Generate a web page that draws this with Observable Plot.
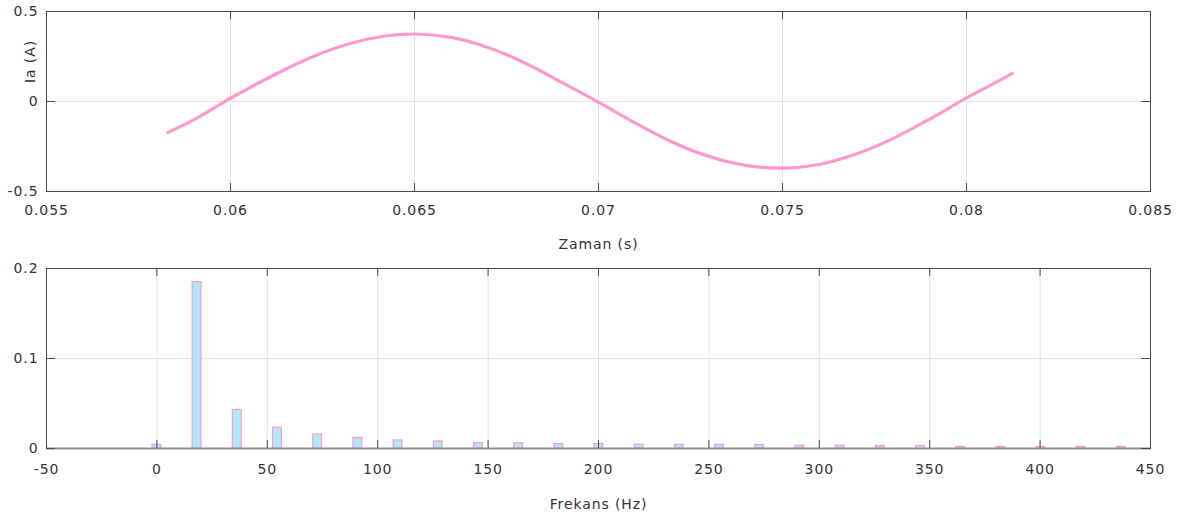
<!DOCTYPE html>
<html>
<head>
<meta charset="utf-8">
<script src="https://cdn.jsdelivr.net/npm/d3@7"></script>
<script src="https://cdn.jsdelivr.net/npm/@observablehq/plot@0.6"></script>
<style>
  html, body { margin: 0; padding: 0; background: #fff; }
  #chart svg { display: block; }
</style>
</head>
<body>
<div id="chart"></div>
<script>
// ---- Data ----
const timeS = [0.0583, 0.059, 0.060, 0.061, 0.062, 0.063, 0.064, 0.065, 0.066, 0.067, 0.068, 0.069, 0.070,
  0.071, 0.072, 0.073, 0.074, 0.075, 0.076, 0.077, 0.078, 0.079, 0.080, 0.081, 0.08125];
const currentA = [-0.172, -0.102, 0.018, 0.128, 0.228, 0.307, 0.357, 0.375, 0.356, 0.300, 0.214, 0.106, -0.004,
  -0.120, -0.225, -0.305, -0.355, -0.370, -0.350, -0.292, -0.206, -0.098, 0.020, 0.128, 0.156];

const freqHz = [0, 18.2, 36.4, 54.6, 72.8, 91, 109.2, 127.4, 145.6, 163.8, 182, 200.2, 218.4, 236.6,
  254.8, 273, 291.2, 309.4, 327.6, 345.8, 364, 382.2, 400.4, 418.6, 436.8];
const magnitude = [0.0042, 0.1848, 0.0428, 0.0232, 0.0155, 0.0118, 0.0090, 0.0078, 0.0060, 0.0058, 0.0050,
  0.0050, 0.0042, 0.0040, 0.0040, 0.0038, 0.0030, 0.0030, 0.0028, 0.0028, 0.0018, 0.0018, 0.0017, 0.0017, 0.0017];

const timeTicks = [0.055, 0.06, 0.065, 0.07, 0.075, 0.08, 0.085];
const currentTicks = [-0.5, 0, 0.5];
const freqTicks = [-50, 0, 50, 100, 150, 200, 250, 300, 350, 400, 450];
const magTicks = [0, 0.1, 0.2];

const xLabelTop = "Zaman (s)";
const yLabelTop = "Ia (A)";
const xLabelBottom = "Frekans (Hz)";

// ---- Styling ----
const W = 1186;
const ML = 46, MR = 36;
const FRAME_H = 180;
const pink = "#ff99cc";
const barFill = "#b0e8fb";
const gridColor = "#e3e3e3";
const frameColor = "#4a4a4a";
const textColor = "#333";
const cssStyle = "font-family: 'DejaVu Sans', sans-serif; font-size: 14px; letter-spacing: 0.9px; color: #333; background: #fff; overflow: visible;";
const fmt = d => String(+d.toFixed(4));

const series = timeS.map((t, i) => ({t, v: currentA[i]}));
const bins = freqHz.map((f, i) => ({f, v: magnitude[i]}));

function inwardTicks(xt, yt) {
  const frameW = W - ML - MR;
  return [
    Plot.ruleX(xt, {x: d => d, insetTop: FRAME_H - 8, stroke: frameColor}),
    Plot.ruleX(xt, {x: d => d, insetBottom: FRAME_H - 8, stroke: frameColor}),
    Plot.ruleY(yt, {y: d => d, insetRight: frameW - 9, stroke: frameColor}),
    Plot.ruleY(yt, {y: d => d, insetLeft: frameW - 9, stroke: frameColor})
  ];
}

const topPlot = Plot.plot({
  width: W, height: 260,
  marginTop: 11, marginBottom: 69, marginLeft: ML, marginRight: MR,
  style: cssStyle,
  x: {domain: [0.055, 0.085]},
  y: {domain: [-0.5, 0.5]},
  marks: [
    Plot.gridX(timeTicks, {stroke: gridColor, strokeOpacity: 1}),
    Plot.gridY(currentTicks, {stroke: gridColor, strokeOpacity: 1}),
    Plot.line(series, {x: "t", y: "v", stroke: pink, strokeWidth: 3.2, curve: "catmull-rom"}),
    Plot.frame({stroke: frameColor}),
    ...inwardTicks(timeTicks, currentTicks),
    Plot.axisX(timeTicks, {tickSize: 0, tickPadding: 14, tickFormat: fmt, label: null, fill: textColor}),
    Plot.axisY(currentTicks, {tickSize: 0, tickPadding: 8, tickFormat: fmt, label: null, fill: textColor}),
    Plot.text([xLabelTop], {text: d => d, frameAnchor: "bottom", lineAnchor: "middle", textAnchor: "middle", dy: 53, fill: textColor}),
    Plot.text([yLabelTop], {text: d => d, frameAnchor: "top-left", lineAnchor: "middle", textAnchor: "middle", dx: -16, dy: 50, rotate: -90, fill: textColor})
  ]
});

const bottomPlot = Plot.plot({
  width: W, height: 261,
  marginTop: 8, marginBottom: 73, marginLeft: ML, marginRight: MR,
  style: cssStyle,
  x: {domain: [-50, 450]},
  y: {domain: [0, 0.2]},
  marks: [
    Plot.gridX(freqTicks, {stroke: gridColor, strokeOpacity: 1}),
    Plot.gridY(magTicks, {stroke: gridColor, strokeOpacity: 1}),
    Plot.frame({stroke: frameColor}),
    Plot.rectY(bins, {x1: d => d.f - 2, x2: d => d.f + 2, y1: 0, y2: "v", fill: barFill, stroke: pink, strokeWidth: 1.2}),
    Plot.ruleY([0], {stroke: "#8f8f8f", strokeWidth: 2}),
    ...inwardTicks(freqTicks, magTicks),
    Plot.axisX(freqTicks, {tickSize: 0, tickPadding: 16, tickFormat: fmt, label: null, fill: textColor}),
    Plot.axisY(magTicks, {tickSize: 0, tickPadding: 8, tickFormat: fmt, label: null, fill: textColor}),
    Plot.text([xLabelBottom], {text: d => d, frameAnchor: "bottom", lineAnchor: "middle", textAnchor: "middle", dy: 56, fill: textColor})
  ]
});

const chart = document.getElementById("chart");
chart.appendChild(topPlot);
chart.appendChild(bottomPlot);
</script>
</body>
</html>
